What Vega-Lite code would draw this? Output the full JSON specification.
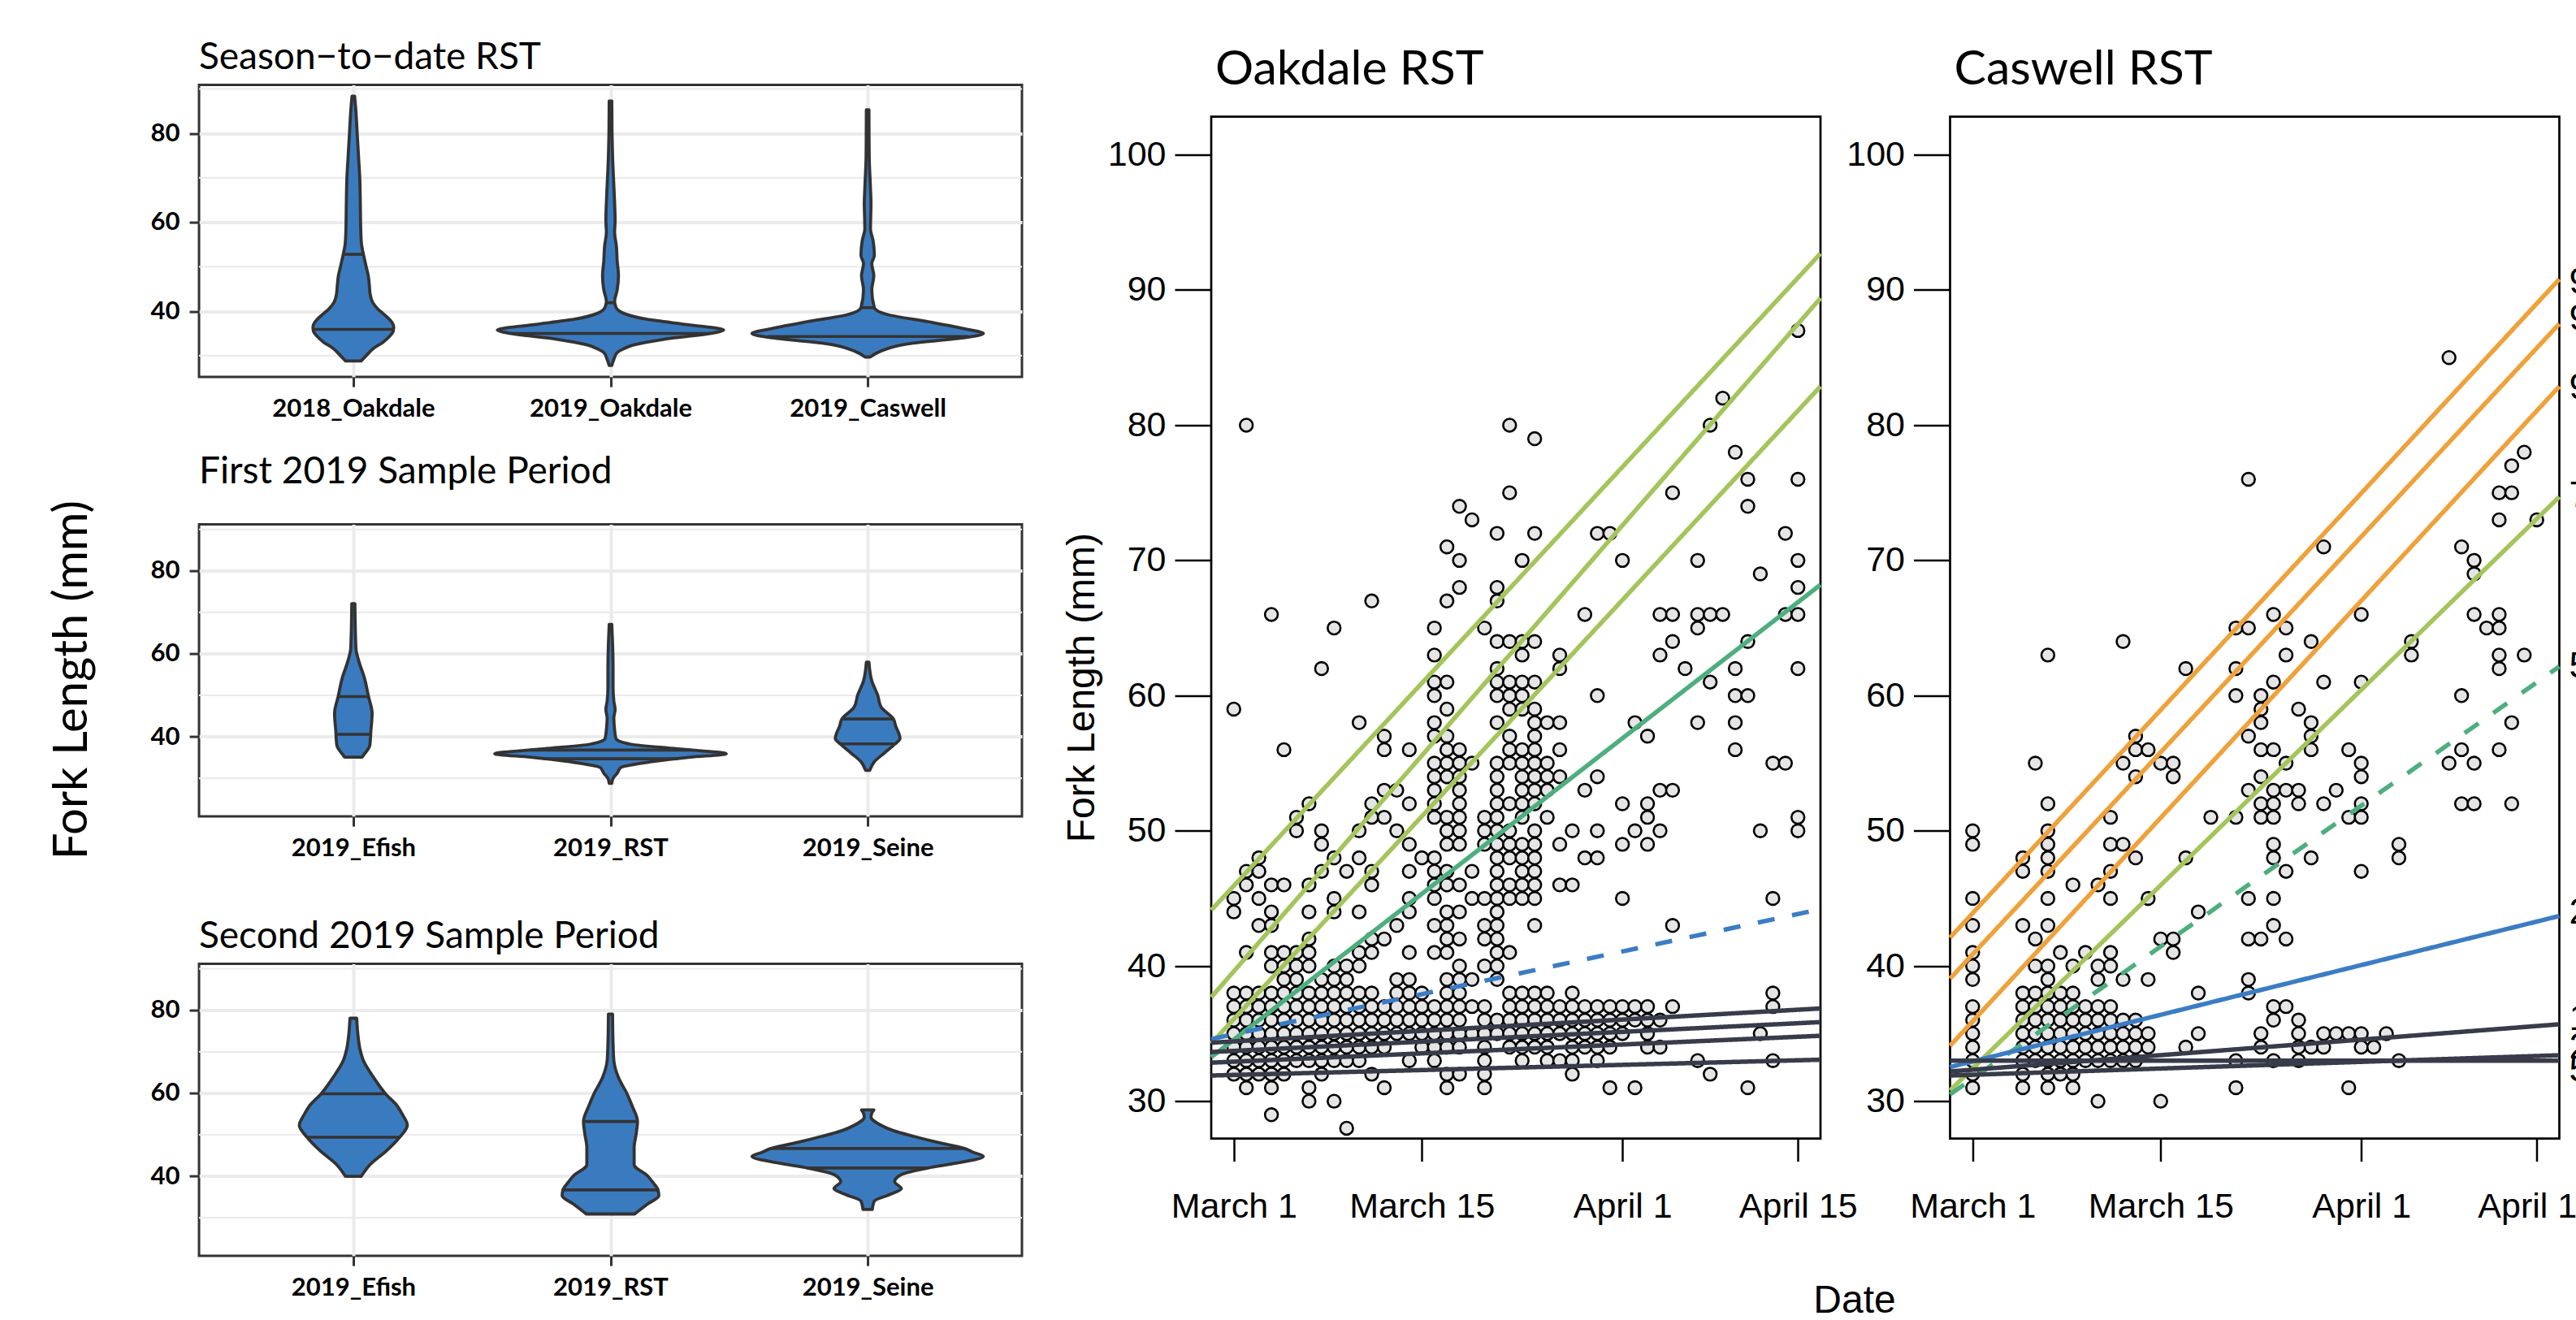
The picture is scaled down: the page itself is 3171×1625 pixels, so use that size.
{
"$schema": "https://vega.github.io/schema/vega-lite/v6.json",
"background": "white",
"padding": {"left": 58, "top": 44.6, "right": 0, "bottom": 0},
"spacing": 46,
"config": {"font": "Liberation Sans", "view": {"stroke": null}, "axis": {"labelFlush": false, "labelOverlap": false, "labelBound": false, "labelLimit": 1000}},
"datasets": {
"minor": [{"g":30},{"g":50},{"g":70},{"g":90}],
"blank": [{"a":1}],
"vio": [
{"pn":1,"i":1,"f":28.8,"w":0.03},{"pn":1,"i":1,"f":30,"w":0.05},{"pn":1,"i":1,"f":31.7,"w":0.08},{"pn":1,"i":1,"f":33,"w":0.115},{"pn":1,"i":1,"f":34.3,"w":0.14},{"pn":1,"i":1,"f":35.5,"w":0.155},{"pn":1,"i":1,"f":36.5,"w":0.157},{"pn":1,"i":1,"f":37.5,"w":0.15},{"pn":1,"i":1,"f":38.5,"w":0.135},{"pn":1,"i":1,"f":39.5,"w":0.115},{"pn":1,"i":1,"f":40.5,"w":0.095},{"pn":1,"i":1,"f":42,"w":0.075},{"pn":1,"i":1,"f":44,"w":0.065},{"pn":1,"i":1,"f":46,"w":0.062},{"pn":1,"i":1,"f":48,"w":0.058},{"pn":1,"i":1,"f":50,"w":0.05},{"pn":1,"i":1,"f":52.6,"w":0.04},{"pn":1,"i":1,"f":55,"w":0.032},{"pn":1,"i":1,"f":58,"w":0.029},{"pn":1,"i":1,"f":65,"w":0.027},{"pn":1,"i":1,"f":70,"w":0.025},{"pn":1,"i":1,"f":75,"w":0.02},{"pn":1,"i":1,"f":80,"w":0.015},{"pn":1,"i":1,"f":85,"w":0.01},{"pn":1,"i":1,"f":88.4,"w":0.005},
{"pn":1,"i":2,"f":27.8,"w":0.005},{"pn":1,"i":2,"f":29,"w":0.012},{"pn":1,"i":2,"f":30.7,"w":0.026},{"pn":1,"i":2,"f":31.5,"w":0.05},{"pn":1,"i":2,"f":32.4,"w":0.09},{"pn":1,"i":2,"f":33.7,"w":0.21},{"pn":1,"i":2,"f":35,"w":0.39},{"pn":1,"i":2,"f":35.8,"w":0.44},{"pn":1,"i":2,"f":36.9,"w":0.31},{"pn":1,"i":2,"f":38.2,"w":0.14},{"pn":1,"i":2,"f":39.5,"w":0.052},{"pn":1,"i":2,"f":40.8,"w":0.022},{"pn":1,"i":2,"f":42.2,"w":0.016},{"pn":1,"i":2,"f":44.8,"w":0.026},{"pn":1,"i":2,"f":48,"w":0.031},{"pn":1,"i":2,"f":51.3,"w":0.026},{"pn":1,"i":2,"f":54.6,"w":0.023},{"pn":1,"i":2,"f":57.8,"w":0.016},{"pn":1,"i":2,"f":60.5,"w":0.018},{"pn":1,"i":2,"f":64.4,"w":0.016},{"pn":1,"i":2,"f":68.3,"w":0.013},{"pn":1,"i":2,"f":75,"w":0.008},{"pn":1,"i":2,"f":80,"w":0.006},{"pn":1,"i":2,"f":87.3,"w":0.005},
{"pn":1,"i":3,"f":29.7,"w":0.01},{"pn":1,"i":3,"f":31,"w":0.05},{"pn":1,"i":3,"f":32.7,"w":0.16},{"pn":1,"i":3,"f":34,"w":0.37},{"pn":1,"i":3,"f":35,"w":0.45},{"pn":1,"i":3,"f":35.9,"w":0.39},{"pn":1,"i":3,"f":37.6,"w":0.24},{"pn":1,"i":3,"f":39.2,"w":0.08},{"pn":1,"i":3,"f":40.8,"w":0.026},{"pn":1,"i":3,"f":44.8,"w":0.016},{"pn":1,"i":3,"f":48,"w":0.024},{"pn":1,"i":3,"f":50.7,"w":0.016},{"pn":1,"i":3,"f":52.6,"w":0.026},{"pn":1,"i":3,"f":55.9,"w":0.021},{"pn":1,"i":3,"f":58.5,"w":0.011},{"pn":1,"i":3,"f":64.4,"w":0.013},{"pn":1,"i":3,"f":67.6,"w":0.011},{"pn":1,"i":3,"f":75,"w":0.006},{"pn":1,"i":3,"f":85.3,"w":0.005},
{"pn":2,"i":1,"f":35.1,"w":0.034},{"pn":2,"i":1,"f":36,"w":0.045},{"pn":2,"i":1,"f":37.9,"w":0.064},{"pn":2,"i":1,"f":41.2,"w":0.068},{"pn":2,"i":1,"f":45.7,"w":0.073},{"pn":2,"i":1,"f":49.7,"w":0.059},{"pn":2,"i":1,"f":54.2,"w":0.043},{"pn":2,"i":1,"f":58.1,"w":0.022},{"pn":2,"i":1,"f":61.4,"w":0.01},{"pn":2,"i":1,"f":72.1,"w":0.006},
{"pn":2,"i":2,"f":28.8,"w":0.005},{"pn":2,"i":2,"f":30,"w":0.01},{"pn":2,"i":2,"f":31.2,"w":0.026},{"pn":2,"i":2,"f":32.6,"w":0.04},{"pn":2,"i":2,"f":34,"w":0.16},{"pn":2,"i":2,"f":35.1,"w":0.31},{"pn":2,"i":2,"f":35.9,"w":0.45},{"pn":2,"i":2,"f":37.1,"w":0.26},{"pn":2,"i":2,"f":38.2,"w":0.08},{"pn":2,"i":2,"f":39.6,"w":0.021},{"pn":2,"i":2,"f":41.7,"w":0.016},{"pn":2,"i":2,"f":44.5,"w":0.013},{"pn":2,"i":2,"f":46.6,"w":0.018},{"pn":2,"i":2,"f":48.6,"w":0.013},{"pn":2,"i":2,"f":52.1,"w":0.01},{"pn":2,"i":2,"f":56.3,"w":0.01},{"pn":2,"i":2,"f":62.6,"w":0.008},{"pn":2,"i":2,"f":67.1,"w":0.005},
{"pn":2,"i":3,"f":31.9,"w":0.008},{"pn":2,"i":3,"f":34,"w":0.026},{"pn":2,"i":3,"f":36.1,"w":0.065},{"pn":2,"i":3,"f":38.2,"w":0.105},{"pn":2,"i":3,"f":39.6,"w":0.126},{"pn":2,"i":3,"f":41,"w":0.12},{"pn":2,"i":3,"f":42.4,"w":0.11},{"pn":2,"i":3,"f":44.3,"w":0.1},{"pn":2,"i":3,"f":47.2,"w":0.052},{"pn":2,"i":3,"f":50,"w":0.039},{"pn":2,"i":3,"f":53.5,"w":0.016},{"pn":2,"i":3,"f":58,"w":0.005},
{"pn":3,"i":1,"f":40,"w":0.031},{"pn":3,"i":1,"f":42.8,"w":0.065},{"pn":3,"i":1,"f":46.2,"w":0.13},{"pn":3,"i":1,"f":49.4,"w":0.18},{"pn":3,"i":1,"f":52.3,"w":0.21},{"pn":3,"i":1,"f":55,"w":0.19},{"pn":3,"i":1,"f":57,"w":0.17},{"pn":3,"i":1,"f":59.9,"w":0.125},{"pn":3,"i":1,"f":63.8,"w":0.079},{"pn":3,"i":1,"f":67.9,"w":0.039},{"pn":3,"i":1,"f":70.6,"w":0.026},{"pn":3,"i":1,"f":74,"w":0.018},{"pn":3,"i":1,"f":78.1,"w":0.013},
{"pn":3,"i":2,"f":30.9,"w":0.094},{"pn":3,"i":2,"f":33.3,"w":0.144},{"pn":3,"i":2,"f":35.3,"w":0.188},{"pn":3,"i":2,"f":36.7,"w":0.185},{"pn":3,"i":2,"f":38.5,"w":0.165},{"pn":3,"i":2,"f":40.1,"w":0.144},{"pn":3,"i":2,"f":42.8,"w":0.092},{"pn":3,"i":2,"f":46.9,"w":0.092},{"pn":3,"i":2,"f":50.3,"w":0.1},{"pn":3,"i":2,"f":53.2,"w":0.105},{"pn":3,"i":2,"f":57,"w":0.084},{"pn":3,"i":2,"f":59.8,"w":0.065},{"pn":3,"i":2,"f":63.8,"w":0.031},{"pn":3,"i":2,"f":67.9,"w":0.013},{"pn":3,"i":2,"f":72,"w":0.01},{"pn":3,"i":2,"f":79.1,"w":0.008},
{"pn":3,"i":3,"f":32,"w":0.018},{"pn":3,"i":3,"f":34,"w":0.026},{"pn":3,"i":3,"f":35.7,"w":0.09},{"pn":3,"i":3,"f":37,"w":0.131},{"pn":3,"i":3,"f":38.7,"w":0.105},{"pn":3,"i":3,"f":40.4,"w":0.131},{"pn":3,"i":3,"f":42,"w":0.235},{"pn":3,"i":3,"f":43,"w":0.33},{"pn":3,"i":3,"f":44.8,"w":0.45},{"pn":3,"i":3,"f":45.8,"w":0.41},{"pn":3,"i":3,"f":46.7,"w":0.377},{"pn":3,"i":3,"f":48.2,"w":0.27},{"pn":3,"i":3,"f":49.6,"w":0.18},{"pn":3,"i":3,"f":51,"w":0.1},{"pn":3,"i":3,"f":52.3,"w":0.052},{"pn":3,"i":3,"f":54.3,"w":0.013},{"pn":3,"i":3,"f":55.2,"w":0.016},{"pn":3,"i":3,"f":56,"w":0.024}
],
"vq": [
{"pn":1,"i":1,"f":52.8,"w":0.04},{"pn":1,"i":1,"f":35.9,"w":0.157},{"pn":1,"i":2,"f":41.9,"w":0.018},{"pn":1,"i":2,"f":35,"w":0.39},{"pn":1,"i":3,"f":40.8,"w":0.026},{"pn":1,"i":3,"f":34.3,"w":0.39},
{"pn":2,"i":1,"f":49.7,"w":0.059},{"pn":2,"i":1,"f":40.6,"w":0.068},{"pn":2,"i":2,"f":36.8,"w":0.31},{"pn":2,"i":2,"f":34.7,"w":0.26},{"pn":2,"i":3,"f":44.3,"w":0.1},{"pn":2,"i":3,"f":38.3,"w":0.106},
{"pn":3,"i":1,"f":59.9,"w":0.125},{"pn":3,"i":1,"f":49.4,"w":0.18},{"pn":3,"i":2,"f":53.2,"w":0.105},{"pn":3,"i":2,"f":36.7,"w":0.185},{"pn":3,"i":3,"f":46.7,"w":0.377},{"pn":3,"i":3,"f":42,"w":0.235}
],
"lines": [
{"p":"O","id":"O1","k":"lg","ls":"s","d":-1.8,"f":44.13},{"p":"O","id":"O1","k":"lg","ls":"s","d":46.8,"f":92.7},
{"p":"O","id":"O2","k":"lg","ls":"s","d":-1.8,"f":37.69},{"p":"O","id":"O2","k":"lg","ls":"s","d":46.8,"f":89.4},
{"p":"O","id":"O3","k":"lg","ls":"s","d":-1.8,"f":34.27},{"p":"O","id":"O3","k":"lg","ls":"s","d":46.8,"f":82.87},
{"p":"O","id":"O4","k":"g","ls":"s","d":-1.8,"f":33.26},{"p":"O","id":"O4","k":"g","ls":"s","d":46.8,"f":68.2},
{"p":"O","id":"O5","k":"b","ls":"d","d":-1.8,"f":34.6},{"p":"O","id":"O5","k":"b","ls":"d","d":46.8,"f":44.2},
{"p":"O","id":"O6","k":"dk","ls":"s","d":-1.8,"f":34.33},{"p":"O","id":"O6","k":"dk","ls":"s","d":46.8,"f":36.86},
{"p":"O","id":"O7","k":"dk","ls":"s","d":-1.8,"f":33.64},{"p":"O","id":"O7","k":"dk","ls":"s","d":46.8,"f":35.85},
{"p":"O","id":"O8","k":"dk","ls":"s","d":-1.8,"f":32.85},{"p":"O","id":"O8","k":"dk","ls":"s","d":46.8,"f":34.84},
{"p":"O","id":"O9","k":"dk","ls":"s","d":-1.8,"f":31.9},{"p":"O","id":"O9","k":"dk","ls":"s","d":46.8,"f":33.07},
{"p":"C","id":"C1","k":"or","ls":"s","d":-1.8,"f":42.1},{"p":"C","id":"C1","k":"or","ls":"s","d":46.8,"f":90.8},
{"p":"C","id":"C2","k":"or","ls":"s","d":-1.8,"f":39.07},{"p":"C","id":"C2","k":"or","ls":"s","d":46.8,"f":87.5},
{"p":"C","id":"C3","k":"or","ls":"s","d":-1.8,"f":34.1},{"p":"C","id":"C3","k":"or","ls":"s","d":46.8,"f":82.87},
{"p":"C","id":"C4","k":"lg","ls":"s","d":-1.8,"f":30.8},{"p":"C","id":"C4","k":"lg","ls":"s","d":46.8,"f":74.7},
{"p":"C","id":"C5","k":"g","ls":"d","d":-1.8,"f":30.5},{"p":"C","id":"C5","k":"g","ls":"d","d":46.8,"f":62.15},
{"p":"C","id":"C6","k":"b","ls":"s","d":-1.8,"f":32.53},{"p":"C","id":"C6","k":"b","ls":"s","d":46.8,"f":43.7},
{"p":"C","id":"C7","k":"dk","ls":"s","d":-1.8,"f":32.2},{"p":"C","id":"C7","k":"dk","ls":"s","d":46.8,"f":35.69},
{"p":"C","id":"C8","k":"dk","ls":"s","d":-1.8,"f":33.0},{"p":"C","id":"C8","k":"dk","ls":"s","d":46.8,"f":33.0},
{"p":"C","id":"C9","k":"dk","ls":"s","d":-1.8,"f":31.9},{"p":"C","id":"C9","k":"dk","ls":"s","d":46.8,"f":33.4}
],
"labs": [{"lab":"9","f":90.6},{"lab":"9","f":87.9},{"lab":"9","f":82.8},{"lab":"7","f":74.8},{"lab":"5","f":62.2},{"lab":"2","f":44.0},{"lab":"1","f":36.1},{"lab":"2","f":34.0},{"lab":"5","f":32.3}],
"pts": [
{"p":"O","d":0,"f":59},{"p":"O","d":0,"f":45},{"p":"O","d":0,"f":44},{"p":"O","d":0,"f":38},{"p":"O","d":0,"f":37},{"p":"O","d":0,"f":36},{"p":"O","d":0,"f":35},{"p":"O","d":0,"f":34},{"p":"O","d":0,"f":33},{"p":"O","d":0,"f":32},
{"p":"O","d":1,"f":80},{"p":"O","d":1,"f":47},{"p":"O","d":1,"f":46},{"p":"O","d":1,"f":41},{"p":"O","d":1,"f":38},{"p":"O","d":1,"f":37},{"p":"O","d":1,"f":36},{"p":"O","d":1,"f":35},{"p":"O","d":1,"f":34},{"p":"O","d":1,"f":33},{"p":"O","d":1,"f":32},{"p":"O","d":1,"f":31},
{"p":"O","d":2,"f":48},{"p":"O","d":2,"f":47},{"p":"O","d":2,"f":45},{"p":"O","d":2,"f":43},{"p":"O","d":2,"f":38},{"p":"O","d":2,"f":37},{"p":"O","d":2,"f":36},{"p":"O","d":2,"f":35},{"p":"O","d":2,"f":34},{"p":"O","d":2,"f":33},{"p":"O","d":2,"f":32},
{"p":"O","d":3,"f":66},{"p":"O","d":3,"f":46},{"p":"O","d":3,"f":44},{"p":"O","d":3,"f":43},{"p":"O","d":3,"f":41},{"p":"O","d":3,"f":40},{"p":"O","d":3,"f":38},{"p":"O","d":3,"f":37},{"p":"O","d":3,"f":36},{"p":"O","d":3,"f":35},{"p":"O","d":3,"f":34},{"p":"O","d":3,"f":33},{"p":"O","d":3,"f":32},{"p":"O","d":3,"f":31},{"p":"O","d":3,"f":29},
{"p":"O","d":4,"f":56},{"p":"O","d":4,"f":46},{"p":"O","d":4,"f":41},{"p":"O","d":4,"f":40},{"p":"O","d":4,"f":39},{"p":"O","d":4,"f":38},{"p":"O","d":4,"f":37},{"p":"O","d":4,"f":36},{"p":"O","d":4,"f":35},{"p":"O","d":4,"f":34},{"p":"O","d":4,"f":33},{"p":"O","d":4,"f":32},
{"p":"O","d":5,"f":51},{"p":"O","d":5,"f":50},{"p":"O","d":5,"f":41},{"p":"O","d":5,"f":40},{"p":"O","d":5,"f":39},{"p":"O","d":5,"f":38},{"p":"O","d":5,"f":37},{"p":"O","d":5,"f":36},{"p":"O","d":5,"f":35},{"p":"O","d":5,"f":34},{"p":"O","d":5,"f":33},
{"p":"O","d":6,"f":52},{"p":"O","d":6,"f":46},{"p":"O","d":6,"f":44},{"p":"O","d":6,"f":42},{"p":"O","d":6,"f":41},{"p":"O","d":6,"f":40},{"p":"O","d":6,"f":38},{"p":"O","d":6,"f":37},{"p":"O","d":6,"f":36},{"p":"O","d":6,"f":35},{"p":"O","d":6,"f":34},{"p":"O","d":6,"f":33},{"p":"O","d":6,"f":31},{"p":"O","d":6,"f":30},
{"p":"O","d":7,"f":62},{"p":"O","d":7,"f":50},{"p":"O","d":7,"f":49},{"p":"O","d":7,"f":47},{"p":"O","d":7,"f":39},{"p":"O","d":7,"f":38},{"p":"O","d":7,"f":37},{"p":"O","d":7,"f":36},{"p":"O","d":7,"f":35},{"p":"O","d":7,"f":34},{"p":"O","d":7,"f":33},{"p":"O","d":7,"f":32},
{"p":"O","d":8,"f":65},{"p":"O","d":8,"f":48},{"p":"O","d":8,"f":45},{"p":"O","d":8,"f":44},{"p":"O","d":8,"f":40},{"p":"O","d":8,"f":39},{"p":"O","d":8,"f":38},{"p":"O","d":8,"f":37},{"p":"O","d":8,"f":36},{"p":"O","d":8,"f":35},{"p":"O","d":8,"f":34},{"p":"O","d":8,"f":33},{"p":"O","d":8,"f":30},
{"p":"O","d":9,"f":47},{"p":"O","d":9,"f":40},{"p":"O","d":9,"f":39},{"p":"O","d":9,"f":38},{"p":"O","d":9,"f":37},{"p":"O","d":9,"f":36},{"p":"O","d":9,"f":35},{"p":"O","d":9,"f":34},{"p":"O","d":9,"f":33},{"p":"O","d":9,"f":28},
{"p":"O","d":10,"f":58},{"p":"O","d":10,"f":50},{"p":"O","d":10,"f":48},{"p":"O","d":10,"f":44},{"p":"O","d":10,"f":41},{"p":"O","d":10,"f":40},{"p":"O","d":10,"f":38},{"p":"O","d":10,"f":37},{"p":"O","d":10,"f":36},{"p":"O","d":10,"f":35},{"p":"O","d":10,"f":34},{"p":"O","d":10,"f":33},
{"p":"O","d":11,"f":67},{"p":"O","d":11,"f":52},{"p":"O","d":11,"f":51},{"p":"O","d":11,"f":47},{"p":"O","d":11,"f":46},{"p":"O","d":11,"f":42},{"p":"O","d":11,"f":41},{"p":"O","d":11,"f":38},{"p":"O","d":11,"f":37},{"p":"O","d":11,"f":36},{"p":"O","d":11,"f":35},{"p":"O","d":11,"f":34},{"p":"O","d":11,"f":32},
{"p":"O","d":12,"f":57},{"p":"O","d":12,"f":56},{"p":"O","d":12,"f":53},{"p":"O","d":12,"f":51},{"p":"O","d":12,"f":42},{"p":"O","d":12,"f":37},{"p":"O","d":12,"f":36},{"p":"O","d":12,"f":35},{"p":"O","d":12,"f":34},{"p":"O","d":12,"f":31},
{"p":"O","d":13,"f":53},{"p":"O","d":13,"f":50},{"p":"O","d":13,"f":43},{"p":"O","d":13,"f":39},{"p":"O","d":13,"f":38},{"p":"O","d":13,"f":37},{"p":"O","d":13,"f":36},{"p":"O","d":13,"f":35},
{"p":"O","d":14,"f":56},{"p":"O","d":14,"f":52},{"p":"O","d":14,"f":49},{"p":"O","d":14,"f":47},{"p":"O","d":14,"f":45},{"p":"O","d":14,"f":44},{"p":"O","d":14,"f":41},{"p":"O","d":14,"f":39},{"p":"O","d":14,"f":38},{"p":"O","d":14,"f":37},{"p":"O","d":14,"f":36},{"p":"O","d":14,"f":35},{"p":"O","d":14,"f":33},
{"p":"O","d":15,"f":48},{"p":"O","d":15,"f":38},{"p":"O","d":15,"f":37},{"p":"O","d":15,"f":36},{"p":"O","d":15,"f":35},{"p":"O","d":15,"f":34},
{"p":"O","d":16,"f":65},{"p":"O","d":16,"f":63},{"p":"O","d":16,"f":61},{"p":"O","d":16,"f":60},{"p":"O","d":16,"f":58},{"p":"O","d":16,"f":57},{"p":"O","d":16,"f":55},{"p":"O","d":16,"f":54},{"p":"O","d":16,"f":53},{"p":"O","d":16,"f":52},{"p":"O","d":16,"f":51},{"p":"O","d":16,"f":48},{"p":"O","d":16,"f":47},{"p":"O","d":16,"f":46},{"p":"O","d":16,"f":45},{"p":"O","d":16,"f":43},{"p":"O","d":16,"f":41},{"p":"O","d":16,"f":37},{"p":"O","d":16,"f":36},{"p":"O","d":16,"f":35},{"p":"O","d":16,"f":34},{"p":"O","d":16,"f":33},
{"p":"O","d":17,"f":71},{"p":"O","d":17,"f":67},{"p":"O","d":17,"f":61},{"p":"O","d":17,"f":59},{"p":"O","d":17,"f":57},{"p":"O","d":17,"f":56},{"p":"O","d":17,"f":55},{"p":"O","d":17,"f":54},{"p":"O","d":17,"f":51},{"p":"O","d":17,"f":50},{"p":"O","d":17,"f":49},{"p":"O","d":17,"f":47},{"p":"O","d":17,"f":46},{"p":"O","d":17,"f":44},{"p":"O","d":17,"f":43},{"p":"O","d":17,"f":42},{"p":"O","d":17,"f":41},{"p":"O","d":17,"f":39},{"p":"O","d":17,"f":38},{"p":"O","d":17,"f":37},{"p":"O","d":17,"f":36},{"p":"O","d":17,"f":35},{"p":"O","d":17,"f":34},{"p":"O","d":17,"f":32},{"p":"O","d":17,"f":31},
{"p":"O","d":18,"f":74},{"p":"O","d":18,"f":70},{"p":"O","d":18,"f":68},{"p":"O","d":18,"f":56},{"p":"O","d":18,"f":55},{"p":"O","d":18,"f":54},{"p":"O","d":18,"f":53},{"p":"O","d":18,"f":52},{"p":"O","d":18,"f":51},{"p":"O","d":18,"f":50},{"p":"O","d":18,"f":49},{"p":"O","d":18,"f":46},{"p":"O","d":18,"f":44},{"p":"O","d":18,"f":42},{"p":"O","d":18,"f":40},{"p":"O","d":18,"f":39},{"p":"O","d":18,"f":38},{"p":"O","d":18,"f":37},{"p":"O","d":18,"f":36},{"p":"O","d":18,"f":35},{"p":"O","d":18,"f":34},{"p":"O","d":18,"f":32},
{"p":"O","d":19,"f":73},{"p":"O","d":19,"f":55},{"p":"O","d":19,"f":47},{"p":"O","d":19,"f":45},{"p":"O","d":19,"f":39},{"p":"O","d":19,"f":37},{"p":"O","d":19,"f":35},
{"p":"O","d":20,"f":65},{"p":"O","d":20,"f":51},{"p":"O","d":20,"f":50},{"p":"O","d":20,"f":49},{"p":"O","d":20,"f":45},{"p":"O","d":20,"f":43},{"p":"O","d":20,"f":42},{"p":"O","d":20,"f":40},{"p":"O","d":20,"f":37},{"p":"O","d":20,"f":36},{"p":"O","d":20,"f":35},{"p":"O","d":20,"f":34},{"p":"O","d":20,"f":33},{"p":"O","d":20,"f":32},{"p":"O","d":20,"f":31},
{"p":"O","d":21,"f":72},{"p":"O","d":21,"f":68},{"p":"O","d":21,"f":67},{"p":"O","d":21,"f":64},{"p":"O","d":21,"f":62},{"p":"O","d":21,"f":61},{"p":"O","d":21,"f":60},{"p":"O","d":21,"f":58},{"p":"O","d":21,"f":55},{"p":"O","d":21,"f":54},{"p":"O","d":21,"f":53},{"p":"O","d":21,"f":52},{"p":"O","d":21,"f":51},{"p":"O","d":21,"f":50},{"p":"O","d":21,"f":49},{"p":"O","d":21,"f":48},{"p":"O","d":21,"f":47},{"p":"O","d":21,"f":46},{"p":"O","d":21,"f":45},{"p":"O","d":21,"f":44},{"p":"O","d":21,"f":43},{"p":"O","d":21,"f":42},{"p":"O","d":21,"f":41},{"p":"O","d":21,"f":40},{"p":"O","d":21,"f":39},{"p":"O","d":21,"f":36},{"p":"O","d":21,"f":35},
{"p":"O","d":22,"f":80},{"p":"O","d":22,"f":75},{"p":"O","d":22,"f":64},{"p":"O","d":22,"f":61},{"p":"O","d":22,"f":60},{"p":"O","d":22,"f":59},{"p":"O","d":22,"f":57},{"p":"O","d":22,"f":56},{"p":"O","d":22,"f":55},{"p":"O","d":22,"f":52},{"p":"O","d":22,"f":50},{"p":"O","d":22,"f":49},{"p":"O","d":22,"f":48},{"p":"O","d":22,"f":46},{"p":"O","d":22,"f":45},{"p":"O","d":22,"f":41},{"p":"O","d":22,"f":38},{"p":"O","d":22,"f":37},{"p":"O","d":22,"f":36},{"p":"O","d":22,"f":35},{"p":"O","d":22,"f":34},
{"p":"O","d":23,"f":70},{"p":"O","d":23,"f":64},{"p":"O","d":23,"f":63},{"p":"O","d":23,"f":61},{"p":"O","d":23,"f":60},{"p":"O","d":23,"f":59},{"p":"O","d":23,"f":56},{"p":"O","d":23,"f":55},{"p":"O","d":23,"f":54},{"p":"O","d":23,"f":53},{"p":"O","d":23,"f":52},{"p":"O","d":23,"f":51},{"p":"O","d":23,"f":49},{"p":"O","d":23,"f":48},{"p":"O","d":23,"f":47},{"p":"O","d":23,"f":46},{"p":"O","d":23,"f":45},{"p":"O","d":23,"f":38},{"p":"O","d":23,"f":37},{"p":"O","d":23,"f":36},{"p":"O","d":23,"f":35},{"p":"O","d":23,"f":34},{"p":"O","d":23,"f":33},
{"p":"O","d":24,"f":79},{"p":"O","d":24,"f":72},{"p":"O","d":24,"f":64},{"p":"O","d":24,"f":61},{"p":"O","d":24,"f":59},{"p":"O","d":24,"f":58},{"p":"O","d":24,"f":57},{"p":"O","d":24,"f":56},{"p":"O","d":24,"f":55},{"p":"O","d":24,"f":54},{"p":"O","d":24,"f":53},{"p":"O","d":24,"f":52},{"p":"O","d":24,"f":50},{"p":"O","d":24,"f":49},{"p":"O","d":24,"f":48},{"p":"O","d":24,"f":47},{"p":"O","d":24,"f":46},{"p":"O","d":24,"f":45},{"p":"O","d":24,"f":43},{"p":"O","d":24,"f":38},{"p":"O","d":24,"f":37},{"p":"O","d":24,"f":36},{"p":"O","d":24,"f":35},{"p":"O","d":24,"f":34},
{"p":"O","d":25,"f":58},{"p":"O","d":25,"f":55},{"p":"O","d":25,"f":54},{"p":"O","d":25,"f":53},{"p":"O","d":25,"f":51},{"p":"O","d":25,"f":38},{"p":"O","d":25,"f":37},{"p":"O","d":25,"f":36},{"p":"O","d":25,"f":35},{"p":"O","d":25,"f":34},{"p":"O","d":25,"f":33},
{"p":"O","d":26,"f":63},{"p":"O","d":26,"f":62},{"p":"O","d":26,"f":58},{"p":"O","d":26,"f":56},{"p":"O","d":26,"f":54},{"p":"O","d":26,"f":49},{"p":"O","d":26,"f":46},{"p":"O","d":26,"f":37},{"p":"O","d":26,"f":36},{"p":"O","d":26,"f":35},{"p":"O","d":26,"f":33},
{"p":"O","d":27,"f":50},{"p":"O","d":27,"f":46},{"p":"O","d":27,"f":38},{"p":"O","d":27,"f":37},{"p":"O","d":27,"f":36},{"p":"O","d":27,"f":35},{"p":"O","d":27,"f":34},{"p":"O","d":27,"f":33},{"p":"O","d":27,"f":32},
{"p":"O","d":28,"f":66},{"p":"O","d":28,"f":53},{"p":"O","d":28,"f":48},{"p":"O","d":28,"f":37},{"p":"O","d":28,"f":36},{"p":"O","d":28,"f":35},{"p":"O","d":28,"f":34},
{"p":"O","d":29,"f":72},{"p":"O","d":29,"f":60},{"p":"O","d":29,"f":54},{"p":"O","d":29,"f":50},{"p":"O","d":29,"f":48},{"p":"O","d":29,"f":37},{"p":"O","d":29,"f":36},{"p":"O","d":29,"f":35},{"p":"O","d":29,"f":34},{"p":"O","d":29,"f":33},
{"p":"O","d":30,"f":72},{"p":"O","d":30,"f":37},{"p":"O","d":30,"f":36},{"p":"O","d":30,"f":35},{"p":"O","d":30,"f":34},{"p":"O","d":30,"f":31},
{"p":"O","d":31,"f":70},{"p":"O","d":31,"f":52},{"p":"O","d":31,"f":49},{"p":"O","d":31,"f":45},{"p":"O","d":31,"f":37},{"p":"O","d":31,"f":36},{"p":"O","d":31,"f":35},
{"p":"O","d":32,"f":58},{"p":"O","d":32,"f":50},{"p":"O","d":32,"f":37},{"p":"O","d":32,"f":36},{"p":"O","d":32,"f":31},
{"p":"O","d":33,"f":57},{"p":"O","d":33,"f":52},{"p":"O","d":33,"f":51},{"p":"O","d":33,"f":49},{"p":"O","d":33,"f":37},{"p":"O","d":33,"f":36},{"p":"O","d":33,"f":35},{"p":"O","d":33,"f":34},
{"p":"O","d":34,"f":66},{"p":"O","d":34,"f":63},{"p":"O","d":34,"f":53},{"p":"O","d":34,"f":50},{"p":"O","d":34,"f":36},{"p":"O","d":34,"f":34},
{"p":"O","d":35,"f":75},{"p":"O","d":35,"f":66},{"p":"O","d":35,"f":64},{"p":"O","d":35,"f":53},{"p":"O","d":35,"f":43},{"p":"O","d":35,"f":37},
{"p":"O","d":36,"f":62},
{"p":"O","d":37,"f":70},{"p":"O","d":37,"f":66},{"p":"O","d":37,"f":65},{"p":"O","d":37,"f":58},{"p":"O","d":37,"f":33},
{"p":"O","d":38,"f":80},{"p":"O","d":38,"f":66},{"p":"O","d":38,"f":61},{"p":"O","d":38,"f":32},
{"p":"O","d":39,"f":82},{"p":"O","d":39,"f":66},
{"p":"O","d":40,"f":78},{"p":"O","d":40,"f":62},{"p":"O","d":40,"f":60},{"p":"O","d":40,"f":58},{"p":"O","d":40,"f":56},
{"p":"O","d":41,"f":76},{"p":"O","d":41,"f":74},{"p":"O","d":41,"f":64},{"p":"O","d":41,"f":60},{"p":"O","d":41,"f":31},
{"p":"O","d":42,"f":69},{"p":"O","d":42,"f":50},{"p":"O","d":42,"f":35},
{"p":"O","d":43,"f":55},{"p":"O","d":43,"f":45},{"p":"O","d":43,"f":38},{"p":"O","d":43,"f":37},{"p":"O","d":43,"f":33},
{"p":"O","d":44,"f":72},{"p":"O","d":44,"f":66},{"p":"O","d":44,"f":55},
{"p":"O","d":45,"f":87},{"p":"O","d":45,"f":76},{"p":"O","d":45,"f":70},{"p":"O","d":45,"f":68},{"p":"O","d":45,"f":66},{"p":"O","d":45,"f":62},{"p":"O","d":45,"f":51},{"p":"O","d":45,"f":50},
{"p":"C","d":0,"f":50},{"p":"C","d":0,"f":49},{"p":"C","d":0,"f":45},{"p":"C","d":0,"f":43},{"p":"C","d":0,"f":41},{"p":"C","d":0,"f":40},{"p":"C","d":0,"f":39},{"p":"C","d":0,"f":37},{"p":"C","d":0,"f":36},{"p":"C","d":0,"f":35},{"p":"C","d":0,"f":34},{"p":"C","d":0,"f":33},{"p":"C","d":0,"f":32},{"p":"C","d":0,"f":31},
{"p":"C","d":4,"f":48},{"p":"C","d":4,"f":47},{"p":"C","d":4,"f":43},{"p":"C","d":4,"f":38},{"p":"C","d":4,"f":37},{"p":"C","d":4,"f":36},{"p":"C","d":4,"f":35},{"p":"C","d":4,"f":34},{"p":"C","d":4,"f":33},{"p":"C","d":4,"f":32},{"p":"C","d":4,"f":31},
{"p":"C","d":5,"f":55},{"p":"C","d":5,"f":42},{"p":"C","d":5,"f":40},{"p":"C","d":5,"f":38},{"p":"C","d":5,"f":37},{"p":"C","d":5,"f":36},{"p":"C","d":5,"f":35},{"p":"C","d":5,"f":34},{"p":"C","d":5,"f":33},
{"p":"C","d":6,"f":63},{"p":"C","d":6,"f":52},{"p":"C","d":6,"f":50},{"p":"C","d":6,"f":49},{"p":"C","d":6,"f":48},{"p":"C","d":6,"f":47},{"p":"C","d":6,"f":45},{"p":"C","d":6,"f":43},{"p":"C","d":6,"f":40},{"p":"C","d":6,"f":39},{"p":"C","d":6,"f":38},{"p":"C","d":6,"f":37},{"p":"C","d":6,"f":36},{"p":"C","d":6,"f":35},{"p":"C","d":6,"f":34},{"p":"C","d":6,"f":33},{"p":"C","d":6,"f":32},{"p":"C","d":6,"f":31},
{"p":"C","d":7,"f":41},{"p":"C","d":7,"f":38},{"p":"C","d":7,"f":37},{"p":"C","d":7,"f":36},{"p":"C","d":7,"f":35},{"p":"C","d":7,"f":34},{"p":"C","d":7,"f":33},{"p":"C","d":7,"f":32},
{"p":"C","d":8,"f":46},{"p":"C","d":8,"f":40},{"p":"C","d":8,"f":38},{"p":"C","d":8,"f":37},{"p":"C","d":8,"f":36},{"p":"C","d":8,"f":35},{"p":"C","d":8,"f":34},{"p":"C","d":8,"f":33},{"p":"C","d":8,"f":32},{"p":"C","d":8,"f":31},
{"p":"C","d":9,"f":41},{"p":"C","d":9,"f":37},{"p":"C","d":9,"f":36},{"p":"C","d":9,"f":35},{"p":"C","d":9,"f":34},{"p":"C","d":9,"f":33},
{"p":"C","d":10,"f":46},{"p":"C","d":10,"f":40},{"p":"C","d":10,"f":39},{"p":"C","d":10,"f":37},{"p":"C","d":10,"f":36},{"p":"C","d":10,"f":35},{"p":"C","d":10,"f":34},{"p":"C","d":10,"f":33},{"p":"C","d":10,"f":30},
{"p":"C","d":11,"f":51},{"p":"C","d":11,"f":49},{"p":"C","d":11,"f":47},{"p":"C","d":11,"f":45},{"p":"C","d":11,"f":41},{"p":"C","d":11,"f":40},{"p":"C","d":11,"f":37},{"p":"C","d":11,"f":36},{"p":"C","d":11,"f":35},{"p":"C","d":11,"f":34},{"p":"C","d":11,"f":33},
{"p":"C","d":12,"f":64},{"p":"C","d":12,"f":55},{"p":"C","d":12,"f":49},{"p":"C","d":12,"f":39},{"p":"C","d":12,"f":36},{"p":"C","d":12,"f":35},{"p":"C","d":12,"f":34},{"p":"C","d":12,"f":33},
{"p":"C","d":13,"f":57},{"p":"C","d":13,"f":56},{"p":"C","d":13,"f":54},{"p":"C","d":13,"f":48},{"p":"C","d":13,"f":36},{"p":"C","d":13,"f":35},{"p":"C","d":13,"f":34},{"p":"C","d":13,"f":33},
{"p":"C","d":14,"f":56},{"p":"C","d":14,"f":45},{"p":"C","d":14,"f":39},{"p":"C","d":14,"f":35},{"p":"C","d":14,"f":34},
{"p":"C","d":15,"f":55},{"p":"C","d":15,"f":42},{"p":"C","d":15,"f":30},
{"p":"C","d":16,"f":55},{"p":"C","d":16,"f":54},{"p":"C","d":16,"f":42},{"p":"C","d":16,"f":41},
{"p":"C","d":17,"f":62},{"p":"C","d":17,"f":48},{"p":"C","d":17,"f":34},
{"p":"C","d":18,"f":44},{"p":"C","d":18,"f":38},{"p":"C","d":18,"f":35},
{"p":"C","d":19,"f":51},
{"p":"C","d":21,"f":65},{"p":"C","d":21,"f":62},{"p":"C","d":21,"f":60},{"p":"C","d":21,"f":51},{"p":"C","d":21,"f":33},{"p":"C","d":21,"f":31},
{"p":"C","d":22,"f":76},{"p":"C","d":22,"f":65},{"p":"C","d":22,"f":57},{"p":"C","d":22,"f":53},{"p":"C","d":22,"f":45},{"p":"C","d":22,"f":42},{"p":"C","d":22,"f":39},{"p":"C","d":22,"f":38},
{"p":"C","d":23,"f":60},{"p":"C","d":23,"f":59},{"p":"C","d":23,"f":58},{"p":"C","d":23,"f":56},{"p":"C","d":23,"f":54},{"p":"C","d":23,"f":52},{"p":"C","d":23,"f":51},{"p":"C","d":23,"f":42},{"p":"C","d":23,"f":35},{"p":"C","d":23,"f":34},
{"p":"C","d":24,"f":66},{"p":"C","d":24,"f":61},{"p":"C","d":24,"f":56},{"p":"C","d":24,"f":53},{"p":"C","d":24,"f":52},{"p":"C","d":24,"f":51},{"p":"C","d":24,"f":49},{"p":"C","d":24,"f":48},{"p":"C","d":24,"f":45},{"p":"C","d":24,"f":43},{"p":"C","d":24,"f":37},{"p":"C","d":24,"f":36},{"p":"C","d":24,"f":33},
{"p":"C","d":25,"f":65},{"p":"C","d":25,"f":63},{"p":"C","d":25,"f":55},{"p":"C","d":25,"f":53},{"p":"C","d":25,"f":47},{"p":"C","d":25,"f":42},{"p":"C","d":25,"f":37},
{"p":"C","d":26,"f":59},{"p":"C","d":26,"f":53},{"p":"C","d":26,"f":52},{"p":"C","d":26,"f":36},{"p":"C","d":26,"f":35},{"p":"C","d":26,"f":34},{"p":"C","d":26,"f":33},
{"p":"C","d":27,"f":64},{"p":"C","d":27,"f":58},{"p":"C","d":27,"f":57},{"p":"C","d":27,"f":56},{"p":"C","d":27,"f":48},{"p":"C","d":27,"f":34},
{"p":"C","d":28,"f":71},{"p":"C","d":28,"f":61},{"p":"C","d":28,"f":52},{"p":"C","d":28,"f":35},{"p":"C","d":28,"f":34},
{"p":"C","d":29,"f":53},{"p":"C","d":29,"f":35},
{"p":"C","d":30,"f":56},{"p":"C","d":30,"f":51},{"p":"C","d":30,"f":35},{"p":"C","d":30,"f":31},
{"p":"C","d":31,"f":66},{"p":"C","d":31,"f":61},{"p":"C","d":31,"f":55},{"p":"C","d":31,"f":54},{"p":"C","d":31,"f":52},{"p":"C","d":31,"f":51},{"p":"C","d":31,"f":47},{"p":"C","d":31,"f":35},{"p":"C","d":31,"f":34},
{"p":"C","d":32,"f":34},{"p":"C","d":33,"f":35},
{"p":"C","d":34,"f":49},{"p":"C","d":34,"f":48},{"p":"C","d":34,"f":33},
{"p":"C","d":35,"f":64},{"p":"C","d":35,"f":63},
{"p":"C","d":38,"f":85},{"p":"C","d":38,"f":55},
{"p":"C","d":39,"f":71},{"p":"C","d":39,"f":60},{"p":"C","d":39,"f":56},{"p":"C","d":39,"f":52},
{"p":"C","d":40,"f":70},{"p":"C","d":40,"f":69},{"p":"C","d":40,"f":66},{"p":"C","d":40,"f":55},{"p":"C","d":40,"f":52},
{"p":"C","d":41,"f":65},
{"p":"C","d":42,"f":75},{"p":"C","d":42,"f":73},{"p":"C","d":42,"f":66},{"p":"C","d":42,"f":65},{"p":"C","d":42,"f":63},{"p":"C","d":42,"f":62},{"p":"C","d":42,"f":56},
{"p":"C","d":43,"f":77},{"p":"C","d":43,"f":75},{"p":"C","d":43,"f":58},{"p":"C","d":43,"f":52},
{"p":"C","d":44,"f":78},{"p":"C","d":44,"f":63},
{"p":"C","d":45,"f":73}
]
},
"hconcat": [
{"vconcat": [
 {"data": {"name": "blank"}, "mark": {"type": "point", "opacity": 0}, "width": 1, "height": 60},
 {"width": 1013, "height": 359.5, "view": {"stroke": "#333333", "strokeWidth": 3},
  "title": {"text": "Season−to−date RST", "anchor": "start", "frame": "group", "font": "Lato", "fontSize": 46, "fontWeight": "normal", "color": "black", "baseline": "alphabetic", "offset": 0, "dy": 26},
  "layer": [
   {"data": {"name": "minor"}, "mark": {"type": "rule", "color": "#ebebeb", "strokeWidth": 2.2},
    "encoding": {"y": {"field": "g", "type": "quantitative", "scale": {"domain": [25.2, 90.9], "nice": false, "zero": false},
      "axis": {"values": [40,60,80], "grid": true, "gridColor": "#ebebeb", "gridWidth": 4, "tickSize": 12, "tickWidth": 3, "tickColor": "#333333", "domain": false, "labelFont": "Lato", "labelFontWeight": "bold", "labelFontSize": 31, "labelColor": "black", "labelPadding": 12, "title": null}}}},
   {"data": {"name": "vio"}, "transform": [{"filter": "datum.pn == 1"}, {"calculate": "datum.i - datum.w", "as": "lo"}, {"calculate": "datum.i + datum.w", "as": "hi"}],
    "mark": {"type": "area", "orient": "horizontal", "interpolate": "monotone", "fill": "#3A7BBF", "fillOpacity": 1, "stroke": "#333333", "strokeWidth": 3.8, "strokeJoin": "round"},
    "encoding": {"y": {"field": "f", "type": "quantitative", "scale": {"domain": [25.2, 90.9], "nice": false, "zero": false}},
      "x": {"field": "lo", "type": "quantitative", "scale": {"domain": [0.4, 3.6], "nice": false, "zero": false},
        "axis": {"values": [1,2,3], "labelExpr": "datum.value == 1 ? '2018_Oakdale' : datum.value == 2 ? '2019_Oakdale' : '2019_Caswell'", "grid": true, "gridColor": "#ebebeb", "gridWidth": 4, "tickSize": 12, "tickWidth": 3, "tickColor": "#333333", "domain": false, "labelFont": "Lato", "labelFontWeight": "bold", "labelFontSize": 31, "labelColor": "black", "labelPadding": 12, "title": null}},
      "x2": {"field": "hi"}, "detail": {"field": "i"}}},
   {"data": {"name": "vq"}, "transform": [{"filter": "datum.pn == 1"}, {"calculate": "datum.i - datum.w", "as": "lo"}, {"calculate": "datum.i + datum.w", "as": "hi"}],
    "mark": {"type": "rule", "color": "#333333", "strokeWidth": 3.6},
    "encoding": {"y": {"field": "f", "type": "quantitative"}, "x": {"field": "lo", "type": "quantitative"}, "x2": {"field": "hi"}}}
  ]},
 {"data": {"name": "blank"}, "mark": {"type": "point", "opacity": 0}, "width": 1, "height": 180.5},
 {"width": 1013, "height": 359.5, "view": {"stroke": "#333333", "strokeWidth": 3},
  "title": {"text": "First 2019 Sample Period", "anchor": "start", "frame": "group", "font": "Lato", "fontSize": 46, "fontWeight": "normal", "color": "black", "baseline": "alphabetic", "offset": 0, "dy": 26},
  "layer": [
   {"data": {"name": "minor"}, "mark": {"type": "rule", "color": "#ebebeb", "strokeWidth": 2.2},
    "encoding": {"y": {"field": "g", "type": "quantitative", "scale": {"domain": [20.8, 91.2], "nice": false, "zero": false},
      "axis": {"values": [40,60,80], "grid": true, "gridColor": "#ebebeb", "gridWidth": 4, "tickSize": 12, "tickWidth": 3, "tickColor": "#333333", "domain": false, "labelFont": "Lato", "labelFontWeight": "bold", "labelFontSize": 31, "labelColor": "black", "labelPadding": 12,
        "title": "Fork Length (mm)", "titleFont": "Lato", "titleFontSize": 58, "titleFontWeight": "normal", "titleColor": "black", "titleAngle": 270, "titleAlign": "center", "titleBaseline": "alphabetic", "titleX": -139, "titleY": 191}}}},
   {"data": {"name": "vio"}, "transform": [{"filter": "datum.pn == 2"}, {"calculate": "datum.i - datum.w", "as": "lo"}, {"calculate": "datum.i + datum.w", "as": "hi"}],
    "mark": {"type": "area", "orient": "horizontal", "interpolate": "monotone", "fill": "#3A7BBF", "fillOpacity": 1, "stroke": "#333333", "strokeWidth": 3.8, "strokeJoin": "round"},
    "encoding": {"y": {"field": "f", "type": "quantitative", "scale": {"domain": [20.8, 91.2], "nice": false, "zero": false}},
      "x": {"field": "lo", "type": "quantitative", "scale": {"domain": [0.4, 3.6], "nice": false, "zero": false},
        "axis": {"values": [1,2,3], "labelExpr": "datum.value == 1 ? '2019_Efish' : datum.value == 2 ? '2019_RST' : '2019_Seine'", "grid": true, "gridColor": "#ebebeb", "gridWidth": 4, "tickSize": 12, "tickWidth": 3, "tickColor": "#333333", "domain": false, "labelFont": "Lato", "labelFontWeight": "bold", "labelFontSize": 31, "labelColor": "black", "labelPadding": 12, "title": null}},
      "x2": {"field": "hi"}, "detail": {"field": "i"}}},
   {"data": {"name": "vq"}, "transform": [{"filter": "datum.pn == 2"}, {"calculate": "datum.i - datum.w", "as": "lo"}, {"calculate": "datum.i + datum.w", "as": "hi"}],
    "mark": {"type": "rule", "color": "#333333", "strokeWidth": 3.6},
    "encoding": {"y": {"field": "f", "type": "quantitative"}, "x": {"field": "lo", "type": "quantitative"}, "x2": {"field": "hi"}}}
  ]},
 {"data": {"name": "blank"}, "mark": {"type": "point", "opacity": 0}, "width": 1, "height": 180.5},
 {"width": 1013, "height": 359.5, "view": {"stroke": "#333333", "strokeWidth": 3},
  "title": {"text": "Second 2019 Sample Period", "anchor": "start", "frame": "group", "font": "Lato", "fontSize": 46, "fontWeight": "normal", "color": "black", "baseline": "alphabetic", "offset": 0, "dy": 26},
  "layer": [
   {"data": {"name": "minor"}, "mark": {"type": "rule", "color": "#ebebeb", "strokeWidth": 2.2},
    "encoding": {"y": {"field": "g", "type": "quantitative", "scale": {"domain": [20.8, 91.2], "nice": false, "zero": false},
      "axis": {"values": [40,60,80], "grid": true, "gridColor": "#ebebeb", "gridWidth": 4, "tickSize": 12, "tickWidth": 3, "tickColor": "#333333", "domain": false, "labelFont": "Lato", "labelFontWeight": "bold", "labelFontSize": 31, "labelColor": "black", "labelPadding": 12, "title": null}}}},
   {"data": {"name": "vio"}, "transform": [{"filter": "datum.pn == 3"}, {"calculate": "datum.i - datum.w", "as": "lo"}, {"calculate": "datum.i + datum.w", "as": "hi"}],
    "mark": {"type": "area", "orient": "horizontal", "interpolate": "monotone", "fill": "#3A7BBF", "fillOpacity": 1, "stroke": "#333333", "strokeWidth": 3.8, "strokeJoin": "round"},
    "encoding": {"y": {"field": "f", "type": "quantitative", "scale": {"domain": [20.8, 91.2], "nice": false, "zero": false}},
      "x": {"field": "lo", "type": "quantitative", "scale": {"domain": [0.4, 3.6], "nice": false, "zero": false},
        "axis": {"values": [1,2,3], "labelExpr": "datum.value == 1 ? '2019_Efish' : datum.value == 2 ? '2019_RST' : '2019_Seine'", "grid": true, "gridColor": "#ebebeb", "gridWidth": 4, "tickSize": 12, "tickWidth": 3, "tickColor": "#333333", "domain": false, "labelFont": "Lato", "labelFontWeight": "bold", "labelFontSize": 31, "labelColor": "black", "labelPadding": 12, "title": null}},
      "x2": {"field": "hi"}, "detail": {"field": "i"}}},
   {"data": {"name": "vq"}, "transform": [{"filter": "datum.pn == 3"}, {"calculate": "datum.i - datum.w", "as": "lo"}, {"calculate": "datum.i + datum.w", "as": "hi"}],
    "mark": {"type": "rule", "color": "#333333", "strokeWidth": 3.6},
    "encoding": {"y": {"field": "f", "type": "quantitative"}, "x": {"field": "lo", "type": "quantitative"}, "x2": {"field": "hi"}}}
  ]}
 ], "spacing": 0, "bounds": "flush"},
{"vconcat": [
 {"data": {"name": "blank"}, "mark": {"type": "point", "opacity": 0}, "width": 1, "height": 98.2},
 {"hconcat": [
  {"width": 750, "height": 1258, "view": {"stroke": "black", "strokeWidth": 2.7},
   "title": {"text": "Oakdale RST", "anchor": "start", "frame": "group", "font": "Lato", "fontSize": 59, "fontWeight": "normal", "color": "black", "baseline": "alphabetic", "offset": 0, "dy": 19, "dx": 5},
   "layer": [
    {"data": {"name": "pts"}, "transform": [{"filter": "datum.p == 'O'"}],
     "mark": {"type": "point", "shape": "circle", "filled": true, "fill": "#E5E5E5", "stroke": "black", "strokeWidth": 2.6, "size": 250, "opacity": 1},
     "encoding": {
      "x": {"field": "d", "type": "quantitative", "scale": {"domain": [-1.8, 46.8], "nice": false, "zero": false},
        "axis": {"values": [0,15,31,45], "labelExpr": "datum.value == 0 ? 'March 1' : datum.value == 15 ? 'March 15' : datum.value == 31 ? 'April 1' : 'April 15'", "tickSize": 28, "tickWidth": 2.5, "tickColor": "black", "domain": false, "grid": false, "labelFont": "Liberation Sans", "labelFontSize": 43, "labelColor": "black", "labelPadding": 35,
          "title": "Date", "titleFont": "Liberation Sans", "titleFontSize": 48, "titleFontWeight": "normal", "titleColor": "black", "titleAlign": "center", "titleBaseline": "alphabetic", "titleX": 791.5, "titleY": 214}},
      "y": {"field": "f", "type": "quantitative", "scale": {"domain": [27.24, 102.82], "nice": false, "zero": false},
        "axis": {"values": [30,40,50,60,70,80,90,100], "tickSize": 45, "tickWidth": 2.5, "tickColor": "black", "domain": false, "grid": false, "labelFont": "Liberation Sans", "labelFontSize": 43, "labelColor": "black", "labelPadding": 11,
          "title": "Fork Length (mm)", "titleFont": "Liberation Sans", "titleFontSize": 48, "titleFontWeight": "normal", "titleColor": "black", "titleAngle": 270, "titleAlign": "center", "titleBaseline": "alphabetic", "titleX": -144.5, "titleY": 702.5}}}},
    {"data": {"name": "lines"}, "transform": [{"filter": "datum.p == 'O'"}],
     "mark": {"type": "line", "strokeWidth": 5.5, "strokeCap": "butt"},
     "encoding": {"x": {"field": "d", "type": "quantitative"}, "y": {"field": "f", "type": "quantitative"}, "detail": {"field": "id"},
      "color": {"field": "k", "type": "nominal", "scale": {"domain": ["lg","g","b","dk","or"], "range": ["#A3C55B","#4DAE7E","#3B7DC4","#383C4A","#EFA13A"]}, "legend": null},
      "strokeDash": {"field": "ls", "type": "nominal", "scale": {"domain": ["s","d"], "range": [[1,0],[21,22]]}, "legend": null}}}
   ]},
  {"width": 750, "height": 1258, "view": {"stroke": "black", "strokeWidth": 2.7},
   "title": {"text": "Caswell RST", "anchor": "start", "frame": "group", "font": "Lato", "fontSize": 59, "fontWeight": "normal", "color": "black", "baseline": "alphabetic", "offset": 0, "dy": 19, "dx": 5},
   "layer": [
    {"data": {"name": "pts"}, "transform": [{"filter": "datum.p == 'C'"}],
     "mark": {"type": "point", "shape": "circle", "filled": true, "fill": "#E5E5E5", "stroke": "black", "strokeWidth": 2.6, "size": 250, "opacity": 1},
     "encoding": {
      "x": {"field": "d", "type": "quantitative", "scale": {"domain": [-1.8, 46.8], "nice": false, "zero": false},
        "axis": {"values": [0,15,31,45], "labelExpr": "datum.value == 0 ? 'March 1' : datum.value == 15 ? 'March 15' : datum.value == 31 ? 'April 1' : 'April 15'", "tickSize": 28, "tickWidth": 2.5, "tickColor": "black", "domain": false, "grid": false, "labelFont": "Liberation Sans", "labelFontSize": 43, "labelColor": "black", "labelPadding": 35, "title": null}},
      "y": {"field": "f", "type": "quantitative", "scale": {"domain": [27.24, 102.82], "nice": false, "zero": false},
        "axis": {"values": [30,40,50,60,70,80,90,100], "tickSize": 45, "tickWidth": 2.5, "tickColor": "black", "domain": false, "grid": false, "labelFont": "Liberation Sans", "labelFontSize": 43, "labelColor": "black", "labelPadding": 11, "title": null}}}},
    {"data": {"name": "lines"}, "transform": [{"filter": "datum.p == 'C'"}],
     "mark": {"type": "line", "strokeWidth": 5.5, "strokeCap": "butt"},
     "encoding": {"x": {"field": "d", "type": "quantitative"}, "y": {"field": "f", "type": "quantitative"}, "detail": {"field": "id"},
      "color": {"field": "k", "type": "nominal", "scale": {"domain": ["lg","g","b","dk","or"], "range": ["#A3C55B","#4DAE7E","#3B7DC4","#383C4A","#EFA13A"]}, "legend": null},
      "strokeDash": {"field": "ls", "type": "nominal", "scale": {"domain": ["s","d"], "range": [[1,0],[21,22]]}, "legend": null}}},
    {"data": {"name": "labs"},
     "mark": {"type": "text", "align": "left", "baseline": "middle", "dx": 12, "fontSize": 45, "font": "Liberation Sans", "color": "black"},
     "encoding": {"x": {"datum": 46.8, "type": "quantitative"}, "y": {"field": "f", "type": "quantitative"}, "text": {"field": "lab"}}}
   ]}
 ], "spacing": 159.5, "bounds": "flush"}
 ], "spacing": 0, "bounds": "flush"}
]
}
